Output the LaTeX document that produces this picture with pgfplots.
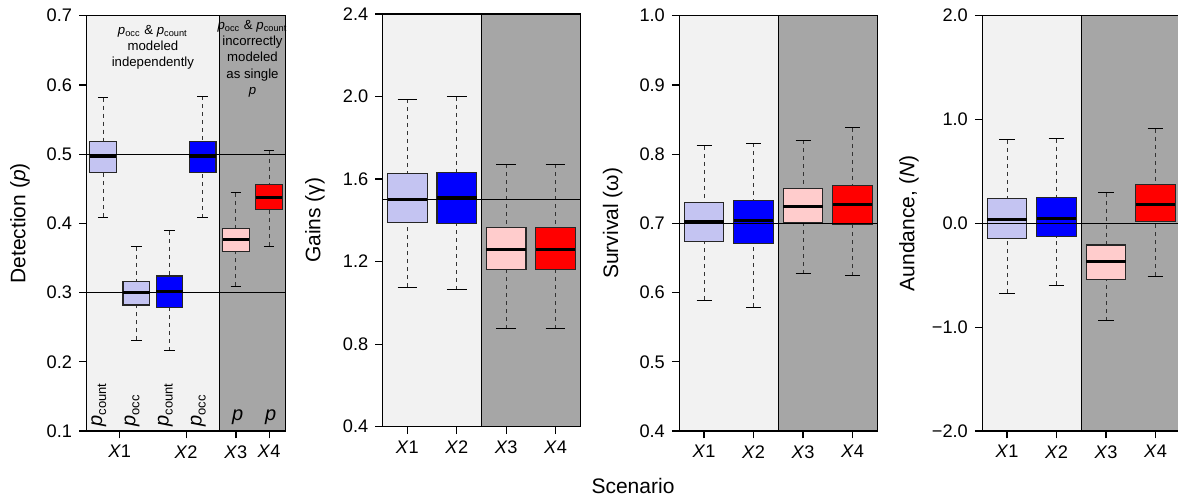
\documentclass[border=0pt]{standalone}
\usepackage{fontspec}
\setmainfont{Liberation Sans}
\usepackage{pgfplots}
\pgfplotsset{compat=1.18}
\usepgfplotslibrary{statistics}
\definecolor{bglight}{RGB}{242,242,242}
\definecolor{bgdark}{RGB}{166,166,166}
\definecolor{lblue}{RGB}{196,196,242}
\definecolor{dblue}{RGB}{0,0,255}
\definecolor{lpink}{RGB}{255,204,204}
\definecolor{dred}{RGB}{255,0,0}
\def\capl{0.3}\def\capr{0.7}
\pgfplotsset{
  boxplot/draw/lower whisker/.code={%
    \draw[black!80, line width=0.5pt, dash pattern=on 2pt off 2pt]
      (boxplot box cs:\pgfplotsboxplotvalue{lower whisker},0.5) --
      (boxplot box cs:\pgfplotsboxplotvalue{lower quartile},0.5);
    \draw[black, line width=0.5pt]
      (boxplot box cs:\pgfplotsboxplotvalue{lower whisker},\capl) --
      (boxplot box cs:\pgfplotsboxplotvalue{lower whisker},\capr);
  },
  boxplot/draw/upper whisker/.code={%
    \draw[black!80, line width=0.5pt, dash pattern=on 2pt off 2pt]
      (boxplot box cs:\pgfplotsboxplotvalue{upper whisker},0.5) --
      (boxplot box cs:\pgfplotsboxplotvalue{upper quartile},0.5);
    \draw[black, line width=0.5pt]
      (boxplot box cs:\pgfplotsboxplotvalue{upper whisker},\capl) --
      (boxplot box cs:\pgfplotsboxplotvalue{upper whisker},\capr);
  },
  boxplot/draw/box/.code={%
    \draw[/pgfplots/boxplot/every box/.try]
      (boxplot box cs:\pgfplotsboxplotvalue{lower quartile},0) rectangle
      (boxplot box cs:\pgfplotsboxplotvalue{upper quartile},1);
  },
  boxplot/draw/median/.code={%
    \draw[black, line width=1.5pt]
      (boxplot box cs:\pgfplotsboxplotvalue{median},0) --
      (boxplot box cs:\pgfplotsboxplotvalue{median},1);
  },
  bx/.style={boxplot/every box/.style={fill=#1, draw=black!85, line width=0.6pt}},
  myaxis/.style={
    scale only axis, anchor=south west, axis on top,
    boxplot/draw direction=y,
    xtick pos=bottom, ytick pos=left, tick align=outside,
    major tick length=3.7pt,
    every tick/.style={black, line width=0.6pt},
    axis line style={black, line width=0.7pt},
    tick label style={font=\fontsize{9.1}{11}\selectfont},
    label style={font=\fontsize{10.5}{12}\selectfont},
    xticklabels={\textit{X}1,\textit{X}2,\textit{X}3,\textit{X}4},
    clip=false,
  },
}
\begin{document}
\begin{tikzpicture}
% ---------------- Panel 1: Detection
\begin{axis}[myaxis, at={(43.25pt,32pt)}, width=99.6pt, height=207.65pt,
  xmin=0.5, xmax=6.5, ymin=0.1, ymax=0.7,
  xtick={1.5,3.5,5,6},
  ytick={0.1,0.2,0.3,0.4,0.5,0.6,0.7},
  yticklabels={0.1,0.2,0.3,0.4,0.5,0.6,0.7},
  ylabel={Detection (\textit{p})},
  ylabel style={at={(axis description cs:-0.334,0.5)}, anchor=center}]
\addplot[fill=bglight, draw=none, forget plot] coordinates {(0.5,0.1) (0.5,0.7) (4.5,0.7) (4.5,0.1) (0.5,0.1)};
\addplot[fill=bgdark, draw=none, forget plot] coordinates {(4.5,0.1) (4.5,0.7) (6.5,0.7) (6.5,0.1) (4.5,0.1)};
\addplot[black, line width=0.7pt, forget plot] coordinates {(4.5,0.1) (4.5,0.7)};
\addplot[bx=lblue, boxplot prepared={draw position=1, lower whisker=0.409, lower quartile=0.474, median=0.497, upper quartile=0.518, upper whisker=0.5815, box extend=0.8}] coordinates {};
\addplot[bx=lblue, boxplot prepared={draw position=2, lower whisker=0.231, lower quartile=0.282, median=0.300, upper quartile=0.316, upper whisker=0.366, box extend=0.8}] coordinates {};
\addplot[bx=dblue, boxplot prepared={draw position=3, lower whisker=0.216, lower quartile=0.279, median=0.301, upper quartile=0.324, upper whisker=0.389, box extend=0.8}] coordinates {};
\addplot[bx=dblue, boxplot prepared={draw position=4, lower whisker=0.408, lower quartile=0.474, median=0.497, upper quartile=0.518, upper whisker=0.584, box extend=0.8}] coordinates {};
\addplot[bx=lpink, boxplot prepared={draw position=5, lower whisker=0.309, lower quartile=0.359, median=0.376, upper quartile=0.393, upper whisker=0.444, box extend=0.8}] coordinates {};
\addplot[bx=dred, boxplot prepared={draw position=6, lower whisker=0.367, lower quartile=0.420, median=0.438, upper quartile=0.456, upper whisker=0.505, box extend=0.8}] coordinates {};
\addplot[black, line width=0.6pt] coordinates {(0.5,0.5) (6.5,0.5)};
\addplot[black, line width=0.6pt] coordinates {(0.5,0.3) (6.5,0.3)};
\node[align=center, font=\fontsize{6.6}{8}\selectfont] at (axis cs:2.5,0.654)
  {\textit{p}\textsubscript{occ} \& \textit{p}\textsubscript{count}\\modeled\\independently};
\node[align=center, font=\fontsize{6.6}{8.2}\selectfont] at (axis cs:5.5,0.638)
  {\textit{p}\textsubscript{occ} \& \textit{p}\textsubscript{count}\\incorrectly\\modeled\\as single\\\textit{p}};
\node[rotate=90, anchor=base west, inner sep=0pt] at (axis cs:0.97,0.106)
  {\fontsize{10}{12}\selectfont\textit{p}\raisebox{-2pt}{\fontsize{6.5}{8}\selectfont count}};
\node[rotate=90, anchor=base west, inner sep=0pt] at (axis cs:1.97,0.106)
  {\fontsize{10}{12}\selectfont\textit{p}\raisebox{-2pt}{\fontsize{6.5}{8}\selectfont occ}};
\node[rotate=90, anchor=base west, inner sep=0pt] at (axis cs:2.97,0.106)
  {\fontsize{10}{12}\selectfont\textit{p}\raisebox{-2pt}{\fontsize{6.5}{8}\selectfont count}};
\node[rotate=90, anchor=base west, inner sep=0pt] at (axis cs:3.97,0.106)
  {\fontsize{10}{12}\selectfont\textit{p}\raisebox{-2pt}{\fontsize{6.5}{8}\selectfont occ}};
\node[anchor=base, inner sep=0pt, font=\fontsize{10}{12}\selectfont] at (axis cs:5.05,0.1157) {\textit{p}};
\node[anchor=base, inner sep=0pt, font=\fontsize{10}{12}\selectfont] at (axis cs:6.05,0.1157) {\textit{p}};
\end{axis}
% ---------------- Panel 2: Gains
\def\capl{0.25}\def\capr{0.75}
\begin{axis}[myaxis, at={(191.35pt,34.15pt)}, width=98.8pt, height=206.35pt,
  xmin=0.5, xmax=4.5, ymin=0.4, ymax=2.4,
  xtick={1,2,3,4},
  ytick={0.4,0.8,1.2,1.6,2.0,2.4},
  yticklabels={0.4,0.8,1.2,1.6,2.0,2.4},
  ylabel={Gains (γ)},
  ylabel style={at={(axis description cs:-0.343,0.5)}, anchor=center}]
\addplot[fill=bglight, draw=none, forget plot] coordinates {(0.5,0.4) (0.5,2.4) (2.5,2.4) (2.5,0.4) (0.5,0.4)};
\addplot[fill=bgdark, draw=none, forget plot] coordinates {(2.5,0.4) (2.5,2.4) (4.5,2.4) (4.5,0.4) (2.5,0.4)};
\addplot[black, line width=0.7pt, forget plot] coordinates {(2.5,0.4) (2.5,2.4)};
\addplot[bx=lblue, boxplot prepared={draw position=1, lower whisker=1.076, lower quartile=1.391, median=1.503, upper quartile=1.629, upper whisker=1.986, box extend=0.8}] coordinates {};
\addplot[bx=dblue, boxplot prepared={draw position=2, lower whisker=1.063, lower quartile=1.386, median=1.509, upper quartile=1.632, upper whisker=1.999, box extend=0.8}] coordinates {};
\addplot[bx=lpink, boxplot prepared={draw position=3, lower whisker=0.875, lower quartile=1.163, median=1.257, upper quartile=1.365, upper whisker=1.671, box extend=0.8}] coordinates {};
\addplot[bx=dred, boxplot prepared={draw position=4, lower whisker=0.875, lower quartile=1.163, median=1.257, upper quartile=1.365, upper whisker=1.671, box extend=0.8}] coordinates {};
\addplot[black, line width=0.6pt] coordinates {(0.5,1.5) (4.5,1.5)};
\end{axis}
% ---------------- Panel 3: Survival
\def\capl{0.31}\def\capr{0.69}
\begin{axis}[myaxis, at={(339.65pt,32pt)}, width=99pt, height=207.65pt,
  xmin=0.5, xmax=4.5, ymin=0.4, ymax=1.0,
  xtick={1,2,3,4},
  ytick={0.4,0.5,0.6,0.7,0.8,0.9,1.0},
  yticklabels={0.4,0.5,0.6,0.7,0.8,0.9,1.0},
  ylabel={Survival (ω)},
  ylabel style={at={(axis description cs:-0.337,0.5)}, anchor=center}]
\addplot[fill=bglight, draw=none, forget plot] coordinates {(0.5,0.4) (0.5,1.0) (2.5,1.0) (2.5,0.4) (0.5,0.4)};
\addplot[fill=bgdark, draw=none, forget plot] coordinates {(2.5,0.4) (2.5,1.0) (4.5,1.0) (4.5,0.4) (2.5,0.4)};
\addplot[black, line width=0.7pt, forget plot] coordinates {(2.5,0.4) (2.5,1.0)};
\addplot[bx=lblue, boxplot prepared={draw position=1, lower whisker=0.589, lower quartile=0.674, median=0.702, upper quartile=0.730, upper whisker=0.812, box extend=0.8}] coordinates {};
\addplot[bx=dblue, boxplot prepared={draw position=2, lower whisker=0.579, lower quartile=0.671, median=0.704, upper quartile=0.733, upper whisker=0.816, box extend=0.8}] coordinates {};
\addplot[bx=lpink, boxplot prepared={draw position=3, lower whisker=0.627, lower quartile=0.701, median=0.724, upper quartile=0.750, upper whisker=0.820, box extend=0.8}] coordinates {};
\addplot[bx=dred, boxplot prepared={draw position=4, lower whisker=0.624, lower quartile=0.699, median=0.727, upper quartile=0.755, upper whisker=0.838, box extend=0.8}] coordinates {};
\addplot[black, line width=0.6pt] coordinates {(0.5,0.7) (4.5,0.7)};
\end{axis}
% ---------------- Panel 4: Abundance
\def\capl{0.3}\def\capr{0.7}
\begin{axis}[myaxis, at={(491.15pt,32pt)}, width=99pt, height=207.65pt,
  xmin=0.5, xmax=4.5, ymin=-2, ymax=2,
  xtick={1,2,3,4},
  ytick={-2,-1,0,1,2},
  yticklabels={−2.0,−1.0,0.0,1.0,2.0},
  ylabel={Aundance, (\textit{N})},
  ylabel style={at={(axis description cs:-0.370,0.5)}, anchor=center}]
\addplot[fill=bglight, draw=none, forget plot] coordinates {(0.5,-2) (0.5,2) (2.5,2) (2.5,-2) (0.5,-2)};
\addplot[fill=bgdark, draw=none, forget plot] coordinates {(2.5,-2) (2.5,2) (4.5,2) (4.5,-2) (2.5,-2)};
\addplot[black, line width=0.7pt, forget plot] coordinates {(2.5,-2) (2.5,2)};
\addplot[bx=lblue, boxplot prepared={draw position=1, lower whisker=-0.673, lower quartile=-0.143, median=0.033, upper quartile=0.239, upper whisker=0.803, box extend=0.8}] coordinates {};
\addplot[bx=dblue, boxplot prepared={draw position=2, lower whisker=-0.596, lower quartile=-0.127, median=0.046, upper quartile=0.251, upper whisker=0.816, box extend=0.8}] coordinates {};
\addplot[bx=lpink, boxplot prepared={draw position=3, lower whisker=-0.936, lower quartile=-0.541, median=-0.365, upper quartile=-0.208, upper whisker=0.293, box extend=0.8}] coordinates {};
\addplot[bx=dred, boxplot prepared={draw position=4, lower whisker=-0.509, lower quartile=0.017, median=0.181, upper quartile=0.373, upper whisker=0.909, box extend=0.8}] coordinates {};
\addplot[black, line width=0.6pt] coordinates {(0.5,0) (4.5,0)};
\end{axis}
\node[anchor=base, inner sep=0pt, font=\fontsize{10.5}{12}\selectfont] at (316.5pt,1pt) {Scenario};
\pgfresetboundingbox
\useasboundingbox (0,0) rectangle (589pt,247.5pt);
\end{tikzpicture}
\end{document}
